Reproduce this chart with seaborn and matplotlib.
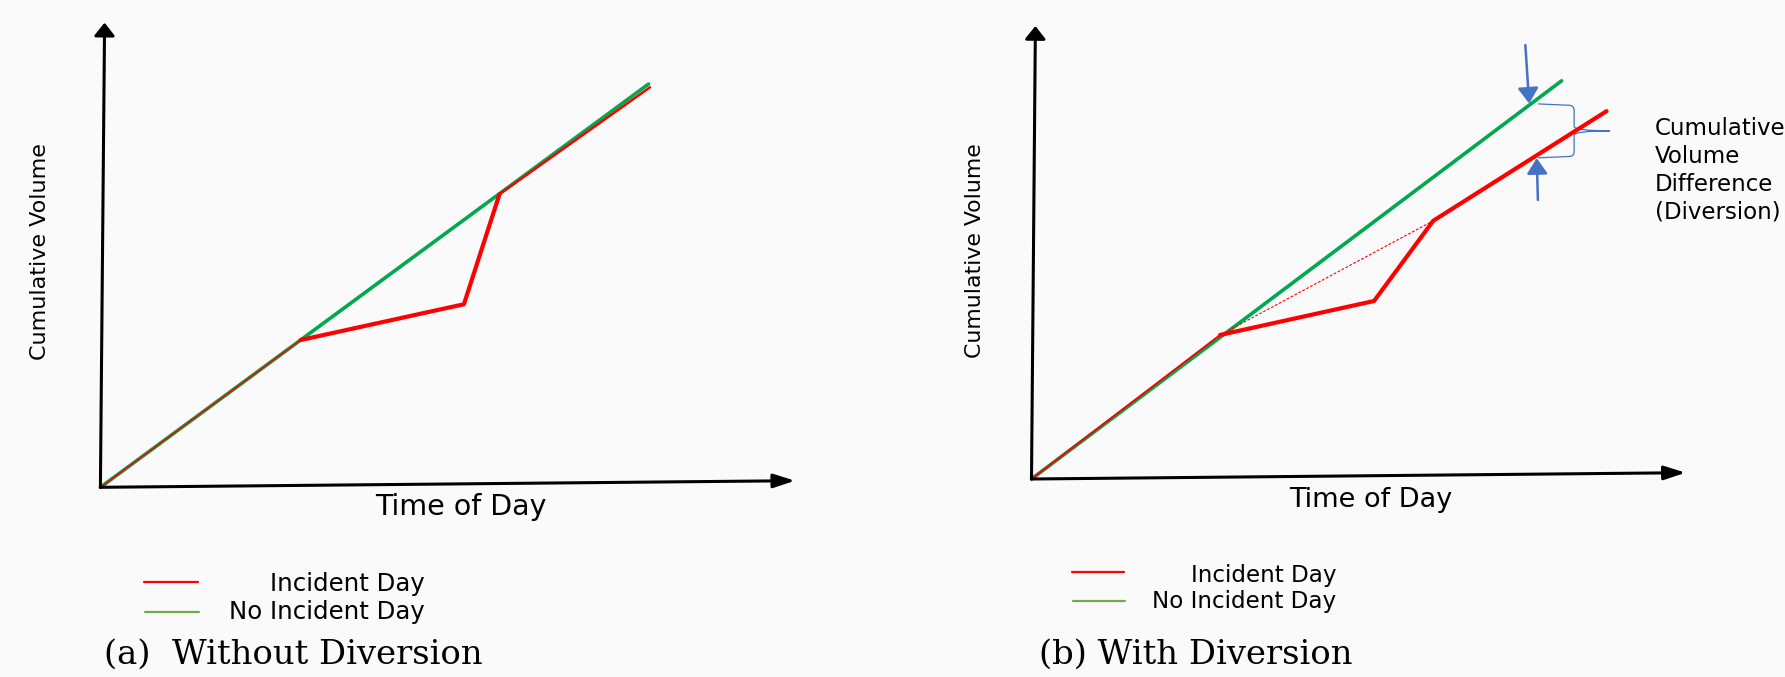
import numpy as np
import pandas as pd
import matplotlib
matplotlib.use("Agg")
import matplotlib.pyplot as plt
import seaborn as sns
from matplotlib.path import Path
from matplotlib.patches import PathPatch
from matplotlib.lines import Line2D

# ---------------- data ----------------
series_labels = ["Incident Day", "No Incident Day"]
captions = ["(a)  Without Diversion", "(b) With Diversion"]
x_label = "Time of Day"
y_label = "Cumulative Volume"
diversion_label = "Cumulative\nVolume\nDifference\n(Diversion)"

# panel (a): without diversion
a_noinc_time = [0.0, 18.94]
a_noinc_vol = [0.0, 86.8]
a_inc_time = [0.0, 6.92, 12.56, 13.79, 18.99]
a_inc_vol = [0.0, 31.7, 39.4, 63.1, 86.1]

# panel (b): with diversion
b_noinc_time = [0.0, 19.45]
b_noinc_vol = [0.0, 87.9]
b_inc_time = [0.0, 6.92, 12.57, 14.74, 21.10]
b_inc_vol = [0.0, 31.8, 39.3, 57.0, 81.2]

# diversion markers (time, volume) on no-incident and incident lines
b_div_time = [18.26, 18.54]
b_div_vol = [82.9, 70.8]

# ---------------- style ----------------
W, H = 1785, 677
GREEN = "#00a84f"
RED = "#ff0000"
LEG_GREEN = "#70ad47"
BLUE = "#4472c4"
BG = "#fafafa"

sns.set_theme(style="white")
plt.rcParams["font.family"] = ["DejaVu Sans"]

fig = plt.figure(figsize=(W / 100, H / 100), dpi=100, facecolor=BG)


def fx(x):
    return x / W


def fy(y):
    return 1 - y / H


def make_ax(origin, tip):
    (ox, oy), (tx, ty) = origin, tip
    ax = fig.add_axes([fx(ox), fy(oy), (tx - ox) / W, (oy - ty) / H])
    ax.set_xlim(0, 24)
    ax.set_ylim(0, 100)
    ax.axis("off")
    ax.patch.set_alpha(0)
    return ax


def draw_axes_arrows(ax, x_tip, y_tip):
    ax.annotate("", xy=x_tip, xytext=(0, 0),
                arrowprops=dict(arrowstyle="-|>,head_length=13,head_width=4.2",
                                mutation_scale=1, lw=2.2, color="black",
                                shrinkA=0, shrinkB=0), annotation_clip=False)
    ax.annotate("", xy=y_tip, xytext=(0, 0),
                arrowprops=dict(arrowstyle="-|>,head_length=7.8,head_width=6.2",
                                mutation_scale=1, lw=2.2, color="black",
                                shrinkA=0, shrinkB=0), annotation_clip=False)


line_kw = dict(sort=False, estimator=None, clip_on=False,
               solid_capstyle="round", solid_joinstyle="round", legend=False)

# ---------------- panel (a) ----------------
axA = make_ax((100.4, 487.3), (795.0, 22.7))
draw_axes_arrows(axA, (24, 1.42), (0.145, 100))
sns.lineplot(x=a_noinc_time, y=a_noinc_vol, ax=axA, color=GREEN, lw=2.6, **line_kw)
sns.lineplot(x=a_inc_time[0:2], y=a_inc_vol[0:2], ax=axA, color=RED, lw=1.1, **line_kw)
sns.lineplot(x=a_inc_time[1:4], y=a_inc_vol[1:4], ax=axA, color=RED, lw=3.0, **line_kw)
sns.lineplot(x=a_inc_time[3:5], y=a_inc_vol[3:5], ax=axA, color=RED, lw=1.8, **line_kw)

# ---------------- panel (b) ----------------
axB = make_ax((1031.5, 479.0), (1685.6, 26.0))
draw_axes_arrows(axB, (24, 1.39), (0.143, 100))
sns.lineplot(x=b_noinc_time, y=b_noinc_vol, ax=axB, color=GREEN, lw=2.6, **line_kw)
sns.lineplot(x=b_inc_time[0:2], y=b_inc_vol[0:2], ax=axB, color=RED, lw=1.4, **line_kw)
sns.lineplot(x=b_inc_time[1:], y=b_inc_vol[1:], ax=axB, color=RED, lw=3.0, **line_kw)
# projected (undiverted) recovery: dotted
axB.plot([b_inc_time[1], b_inc_time[3]], [b_inc_vol[1], b_inc_vol[3]],
         color=RED, lw=0.8, ls=(0, (2.5, 1.5)), clip_on=False)

# diversion arrows
arrow_kw = dict(arrowstyle="-|>,head_length=9.4,head_width=6.3", mutation_scale=1,
                lw=1.8, color=BLUE, shrinkA=0, shrinkB=0)
axB.annotate("", xy=(b_div_time[0], b_div_vol[0]), xytext=(b_div_time[0] - 0.14, b_div_vol[0] + 12.9),
             arrowprops=arrow_kw, annotation_clip=False)
axB.annotate("", xy=(b_div_time[1], b_div_vol[1]), xytext=(b_div_time[1] + 0.04, b_div_vol[1] - 9.2),
             arrowprops=arrow_kw, annotation_clip=False)

# curly brace between the two lines
xl = b_div_time[1] + 0.05
xs = xl + 1.32
xt = xs + 1.31
yt, yb = b_div_vol[0] - 0.1, b_div_vol[1] + 0.1
ym = (yt + yb) / 2
r_x, r_y = 0.18, 1.2
verts = [
    (xl, yt), (xs - r_x, yt - 0.3), (xs, yt - 0.3), (xs, yt - r_y - 0.3),
    (xs, ym + 1.0), (xs, ym), (xt, ym),
    (xs, ym), (xs, ym - 1.0),
    (xs, yb + r_y + 0.3), (xs, yb + 0.3), (xs - r_x, yb + 0.3), (xl, yb),
]
codes = [Path.MOVETO, Path.LINETO, Path.CURVE3, Path.CURVE3,
         Path.LINETO, Path.CURVE3, Path.CURVE3,
         Path.CURVE3, Path.CURVE3,
         Path.LINETO, Path.CURVE3, Path.CURVE3, Path.LINETO]
axB.add_patch(PathPatch(Path(verts, codes), fill=False, edgecolor=BLUE, lw=0.9, clip_on=False))

# ---------------- texts ----------------
fig.text(fx(40), fy(252), y_label, rotation=90, ha="center", va="center", fontsize=16.0, color="black")
fig.text(fx(975), fy(251), y_label, rotation=90, ha="center", va="center", fontsize=15.8, color="black")
fig.text(fx(461), fy(515), x_label, ha="center", va="baseline", fontsize=20.5, color="black")
fig.text(fx(1371), fy(507), x_label, ha="center", va="baseline", fontsize=19.5, color="black")

fig.text(fx(1655), fy(117), diversion_label, ha="left", va="top", fontsize=16.5,
         linespacing=1.27, color="black")

# legends (manual, right-aligned labels as in the original)
for (x0, x1, yr, yg, xr, b1, b2, fs) in [
    (143.5, 198.0, 582.0, 611.7, 425.0, 590.7, 619.0, 17.6),
    (1071.7, 1123.5, 572.3, 601.0, 1336.0, 581.7, 608.3, 16.6),
]:
    fig.add_artist(Line2D([fx(x0), fx(x1)], [fy(yr), fy(yr)], color=RED, lw=1.6))
    fig.add_artist(Line2D([fx(x0 + 1), fx(x1 + 1)], [fy(yg), fy(yg)], color=LEG_GREEN, lw=1.6))
    fig.text(fx(xr), fy(b1), series_labels[0], ha="right", va="baseline", fontsize=fs, color="black")
    fig.text(fx(xr), fy(b2), series_labels[1], ha="right", va="baseline", fontsize=fs, color="black")

fig.text(fx(104), fy(664), captions[0], ha="left", va="baseline", fontsize=24.4,
         family="DejaVu Serif", color="black")
fig.text(fx(1039), fy(664), captions[1], ha="left", va="baseline", fontsize=24.4,
         family="DejaVu Serif", color="black")

fig.savefig("out.png", dpi=100, facecolor=BG)
